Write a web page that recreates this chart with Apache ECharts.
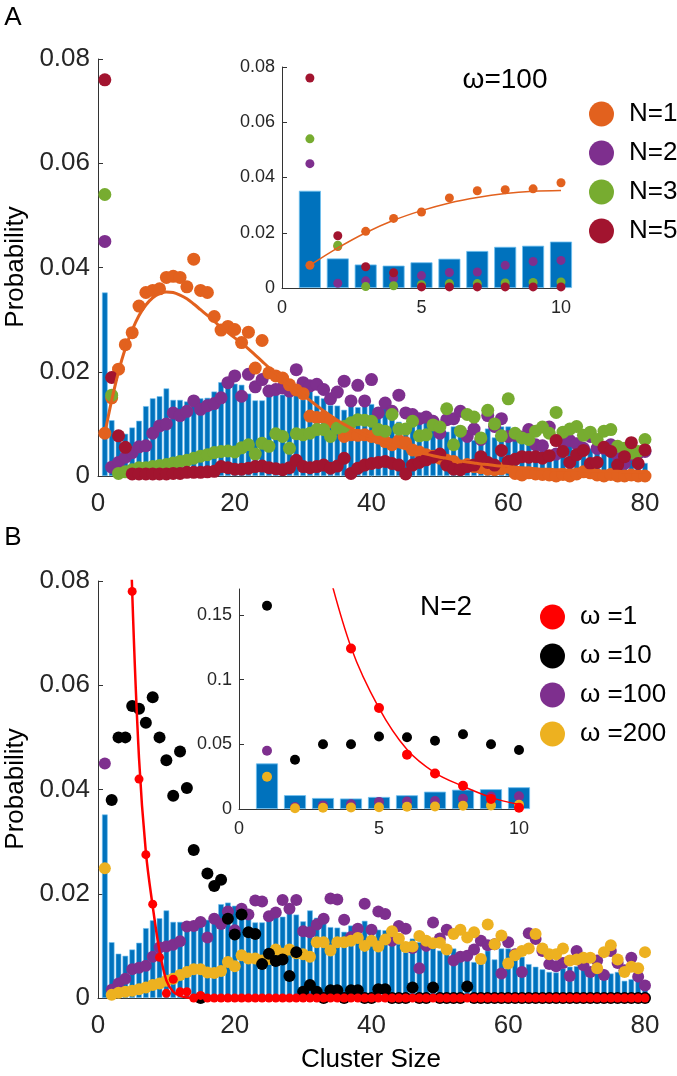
<!DOCTYPE html>
<html>
<head>
<meta charset="utf-8">
<script src="https://cdn.jsdelivr.net/npm/echarts@6/dist/echarts.min.js"></script>
<style>
html, body { margin: 0; background: #fff; }
#chart { width: 677px; height: 1076px; }
</style>
</head>
<body>
<div id="chart"></div>
<script>
// cluster sizes 1..80 (x positions)
const sizes = Array.from({ length: 80 }, (_, i) => i + 1)

// blue histogram (same in both panels)
const bars = [0.0352, 0.0107, 0.0085, 0.0081, 0.0093, 0.0106, 0.0134, 0.0149, 0.0153, 0.0168,
  0.0146, 0.0146, 0.0143, 0.0143, 0.0149, 0.0150, 0.0162, 0.0180, 0.0183, 0.0177,
  0.0175, 0.0158, 0.0145, 0.0145, 0.0155, 0.0163, 0.0156, 0.0176, 0.0160, 0.0147,
  0.0168, 0.0154, 0.0149, 0.0136, 0.0135, 0.0127, 0.0139, 0.0132, 0.0148, 0.0138,
  0.0131, 0.0130, 0.0114, 0.0104, 0.0088, 0.0114, 0.0107, 0.0104, 0.0104, 0.0091,
  0.0085, 0.0095, 0.0082, 0.0082, 0.0069, 0.0066, 0.0091, 0.0074, 0.0095, 0.0095,
  0.0082, 0.0079, 0.0065, 0.0060, 0.0055, 0.0050, 0.0049, 0.0057, 0.0060, 0.0061,
  0.0057, 0.0053, 0.0050, 0.0047, 0.0047, 0.0050, 0.0033, 0.0036, 0.0044, 0.0025]

// panel A, omega = 100
const n1 = [0.0082, 0.0150, 0.0205, 0.0252, 0.0275, 0.0326, 0.0352, 0.0356, 0.0359, 0.0381,
  0.0383, 0.0381, 0.0363, 0.0416, 0.0356, 0.0352, 0.0306, 0.0280, 0.0287, 0.0281,
  0.0256, 0.0276, 0.0207, 0.0260, 0.0198, 0.0192, 0.0188, 0.0175, 0.0165, 0.0158,
  0.0115, 0.0112, 0.0113, 0.0104, 0.0095, 0.0076, 0.0079, 0.0078, 0.0079, 0.0076,
  0.0073, 0.0066, 0.0060, 0.0068, 0.0064, 0.0050, 0.0046, 0.0041, 0.0038, 0.0034,
  0.0030, 0.0028, 0.0015, 0.0022, 0.0018, 0.0016, 0.0013, 0.0012, 0.0014, 0.0017,
  0.0005, 0.0002, 0.0006, 0.0004, 0.0003, 0.0002, 0.0000, 0.0003, 0.0000, 0.0004,
  0.0008, 0.0006, 0.0002, 0.0000, 0.0003, 0.0000, 0.0000, 0.0002, 0.0000, 0.0000]
const n1Fit = [0.0082, 0.0145, 0.0200, 0.0245, 0.0280, 0.0308, 0.0328, 0.0342, 0.0350, 0.0353,
  0.0352, 0.0347, 0.0340, 0.0330, 0.0319, 0.0308, 0.0297, 0.0285, 0.0275, 0.0265,
  0.0255, 0.0244, 0.0232, 0.0220, 0.0208, 0.0197, 0.0186, 0.0175, 0.0165, 0.0155,
  0.0145, 0.0135, 0.0125, 0.0116, 0.0107, 0.0099, 0.0092, 0.0085, 0.0079, 0.0074,
  0.0069, 0.0064, 0.0060, 0.0056, 0.0052, 0.0048, 0.0045, 0.0042, 0.0039, 0.0036,
  0.0034, 0.0031, 0.0029, 0.0027, 0.0025, 0.0023, 0.0022, 0.0020, 0.0019, 0.0018,
  0.0017, 0.0016, 0.0015, 0.0014, 0.0013, 0.0013, 0.0012, 0.0012, 0.0011, 0.0011,
  0.0010, 0.0010, 0.0010, 0.0009, 0.0009, 0.0009, 0.0008, 0.0008, 0.0008, 0.0008]
const n2 = [0.0450, 0.0017, 0.0026, 0.0036, 0.0045, 0.0056, 0.0058, 0.0082, 0.0096, 0.0100,
  0.0121, 0.0116, 0.0124, 0.0144, 0.0128, 0.0135, 0.0139, 0.0150, 0.0179, 0.0192,
  0.0153, 0.0195, 0.0171, 0.0185, 0.0163, 0.0166, 0.0169, 0.0163, 0.0204, 0.0179,
  0.0173, 0.0176, 0.0166, 0.0148, 0.0161, 0.0182, 0.0144, 0.0174, 0.0144, 0.0185,
  0.0121, 0.0140, 0.0124, 0.0155, 0.0121, 0.0118, 0.0110, 0.0113, 0.0105, 0.0082,
  0.0108, 0.0110, 0.0124, 0.0076, 0.0090, 0.0070, 0.0116, 0.0095, 0.0110, 0.0076,
  0.0078, 0.0075, 0.0089, 0.0060, 0.0058, 0.0094, 0.0042, 0.0064, 0.0068, 0.0062,
  0.0053, 0.0076, 0.0053, 0.0053, 0.0060, 0.0039, 0.0024, 0.0041, 0.0044, 0.0047]
const n3 = [0.0540, 0.0155, 0.0005, 0.0008, 0.0012, 0.0016, 0.0016, 0.0018, 0.0020, 0.0022,
  0.0025, 0.0028, 0.0030, 0.0034, 0.0038, 0.0041, 0.0045, 0.0047, 0.0048, 0.0046,
  0.0054, 0.0060, 0.0042, 0.0063, 0.0057, 0.0081, 0.0076, 0.0053, 0.0081, 0.0079,
  0.0082, 0.0089, 0.0089, 0.0076, 0.0092, 0.0095, 0.0102, 0.0108, 0.0107, 0.0105,
  0.0089, 0.0086, 0.0118, 0.0090, 0.0090, 0.0105, 0.0077, 0.0079, 0.0098, 0.0094,
  0.0129, 0.0060, 0.0086, 0.0118, 0.0113, 0.0073, 0.0126, 0.0100, 0.0077, 0.0148,
  0.0082, 0.0073, 0.0070, 0.0086, 0.0094, 0.0082, 0.0122, 0.0084, 0.0090, 0.0095,
  0.0078, 0.0084, 0.0070, 0.0086, 0.0089, 0.0057, 0.0053, 0.0044, 0.0047, 0.0070]
const n5 = [0.0760, 0.0189, 0.0077, 0.0055, 0.0004, 0.0004, 0.0004, 0.0004, 0.0004, 0.0004,
  0.0005, 0.0005, 0.0007, 0.0007, 0.0007, 0.0008, 0.0009, 0.0018, 0.0016, 0.0013,
  0.0013, 0.0015, 0.0018, 0.0019, 0.0016, 0.0014, 0.0012, 0.0016, 0.0030, 0.0018,
  0.0016, 0.0018, 0.0021, 0.0015, 0.0019, 0.0034, 0.0005, 0.0015, 0.0021, 0.0024,
  0.0026, 0.0028, 0.0024, 0.0021, 0.0004, 0.0021, 0.0026, 0.0031, 0.0036, 0.0042,
  0.0021, 0.0013, 0.0012, 0.0018, 0.0021, 0.0037, 0.0026, 0.0021, 0.0049, 0.0028,
  0.0032, 0.0037, 0.0036, 0.0037, 0.0034, 0.0039, 0.0068, 0.0047, 0.0026, 0.0041,
  0.0049, 0.0024, 0.0026, 0.0055, 0.0047, 0.0021, 0.0037, 0.0064, 0.0024, 0.0050]

// panel B, N = 2
const w1 = [0.400, 0.290, 0.200, 0.124, 0.078, 0.042, 0.0275, 0.0180, 0.0078, 0.0009,
  0.0036, 0.0012, 0.0012, 0, 0.0005, 0, 0, 0, 0, 0,
  0, 0, 0, 0, 0, 0, 0, 0, 0, 0,
  0, 0, 0, 0, 0, 0, 0, 0, 0, 0,
  0, 0, 0, 0, 0, 0, 0, 0, 0, 0,
  0, 0, 0, 0, 0, 0, 0, 0, 0, 0,
  0, 0, 0, 0, 0, 0, 0, 0, 0, 0,
  0, 0, 0, 0, 0, 0, 0, 0, 0, 0]
const w1Fit = [0.400, 0.290, 0.200, 0.125, 0.078, 0.046, 0.0280, 0.0176, 0.0090, 0.0034,
  0.0012, 0.0004, 0.0001, 0, 0, 0, 0, 0, 0, 0,
  0, 0, 0, 0, 0, 0, 0, 0, 0, 0,
  0, 0, 0, 0, 0, 0, 0, 0, 0, 0,
  0, 0, 0, 0, 0, 0, 0, 0, 0, 0,
  0, 0, 0, 0, 0, 0, 0, 0, 0, 0,
  0, 0, 0, 0, 0, 0, 0, 0, 0, 0,
  0, 0, 0, 0, 0, 0, 0, 0, 0, 0]
const w10 = [0.157, 0.038, 0.050, 0.050, 0.056, 0.0555, 0.0528, 0.0577, 0.050, 0.0456,
  0.0388, 0.0473, 0.0403, 0.0284, 0, 0.0239, 0.0215, 0.0227, 0.0152, 0.0122,
  0.0160, 0.0126, 0.0123, 0.0065, 0.0085, 0.0071, 0.0074, 0.0042, 0.0088, 0.0012,
  0.0025, 0.0012, 0, 0.0015, 0.0015, 0, 0.0015, 0.0015, 0, 0,
  0.0017, 0.0017, 0, 0, 0, 0.0020, 0, 0, 0.0020, 0,
  0, 0, 0, 0.0022, 0, 0, 0, 0, 0, 0,
  0, 0, 0, 0, 0, 0, 0, 0, 0, 0,
  0, 0, 0, 0, 0, 0, 0, 0, 0, 0]
const w100 = [0.0450, 0.0016, 0.0028, 0.0037, 0.0055, 0.0058, 0.0062, 0.0079, 0.0097, 0.0099,
  0.0102, 0.0109, 0.0137, 0.0138, 0.0146, 0.0116, 0.0152, 0.0142, 0.0166, 0.0130,
  0.0171, 0.0160, 0.0187, 0.0185, 0.0157, 0.0164, 0.0188, 0.0171, 0.0188, 0.0128,
  0.0126, 0.0141, 0.0152, 0.0191, 0.0189, 0.0150, 0.0117, 0.0133, 0.0181, 0.0131,
  0.0166, 0.0161, 0.0110, 0.0138, 0.0133, 0.0096, 0.0057, 0.0100, 0.0145, 0.0114,
  0.0131, 0.0072, 0.0079, 0.0081, 0.0093, 0.0110, 0.0101, 0.0103, 0.0047, 0.0107,
  0.0084, 0.0050, 0.0124, 0.0113, 0.0090, 0.0065, 0.0061, 0.0067, 0.0042, 0.0090,
  0.0063, 0.0050, 0.0072, 0.0044, 0.0090, 0.0067, 0.0053, 0.0077, 0.0041, 0.0024]
const w200 = [0.0249, 0.0006, 0.0010, 0.0012, 0.0014, 0.0017, 0.0020, 0.0025, 0.0028, 0.0033,
  0.0037, 0.0044, 0.0050, 0.0055, 0.0055, 0.0049, 0.0048, 0.0052, 0.0069, 0.0061,
  0.0082, 0.0076, 0.0076, 0.0072, 0.0075, 0.0093, 0.0085, 0.0093, 0.0086, 0.0084,
  0.0079, 0.0107, 0.0107, 0.0091, 0.0107, 0.0107, 0.0110, 0.0115, 0.0100, 0.0110,
  0.0099, 0.0112, 0.0128, 0.0114, 0.0098, 0.0099, 0.0119, 0.0110, 0.0105, 0.0106,
  0.0093, 0.0123, 0.0131, 0.0116, 0.0126, 0.0075, 0.0141, 0.0103, 0.0120, 0.0066,
  0.0082, 0.0090, 0.0095, 0.0123, 0.0095, 0.0084, 0.0084, 0.0095, 0.0072, 0.0074,
  0.0077, 0.0077, 0.0057, 0.0088, 0.0101, 0.0074, 0.0050, 0.0060, 0.0057, 0.0088]

const legendA = ['N=1', 'N=2', 'N=3', 'N=5']
const legendB = ['ω =1', 'ω =10', 'ω =100', 'ω =200']

const FONT = 'Liberation Sans, Arial, sans-serif'
const INK = '#262626'
const ORANGE = '#E2611E'
const PURPLE = '#7E2F8E'
const GREEN = '#77AC30'
const DARKRED = '#A2142F'
const RED = '#FF0000'
const GOLD = '#EDB120'
const BLUE = '#0072BD'

function pts (ys, n) {
  return ys.slice(0, n || ys.length).map((v, i) => [sizes[i], v])
}

function hist (ax, n, w, edge) {
  return {
    type: 'bar', xAxisIndex: ax, yAxisIndex: ax,
    data: pts(bars, n), barWidth: w, silent: true,
    itemStyle: { color: BLUE, borderColor: '#6ec0f0', borderWidth: edge }
  }
}

function dots (name, ys, color, size, ax, n) {
  return {
    name, type: 'scatter', xAxisIndex: ax, yAxisIndex: ax,
    data: pts(ys, n), symbolSize: size, clip: true, silent: true,
    itemStyle: { color, opacity: 1 }
  }
}

function fit (ys, color, width, ax, n) {
  return {
    type: 'line', xAxisIndex: ax, yAxisIndex: ax,
    data: pts(ys, n), smooth: 0.35, showSymbol: false, clip: true, silent: true,
    lineStyle: { color, width }
  }
}

function xAx (grid, max, interval, size, margin) {
  return {
    type: 'value', gridIndex: grid, min: 0, max, interval,
    axisLine: { show: true, onZero: false, lineStyle: { color: '#333', width: 1 } },
    axisTick: { show: true, inside: true, length: 5, lineStyle: { color: '#333' } },
    axisLabel: { color: INK, fontSize: size, fontFamily: FONT, margin },
    splitLine: { show: false }
  }
}

function yAx (grid, max, interval, size, margin, showMax) {
  return {
    type: 'value', gridIndex: grid, min: 0, max, interval,
    axisLine: { show: true, lineStyle: { color: '#333', width: 1 } },
    axisTick: { show: true, inside: true, length: 5, lineStyle: { color: '#333' } },
    axisLabel: { color: INK, fontSize: size, fontFamily: FONT, margin, showMaxLabel: showMax },
    splitLine: { show: false }
  }
}

function legend (names, left, top) {
  return {
    data: names, orient: 'vertical', left, top, icon: 'circle',
    itemWidth: 25, itemHeight: 25, itemGap: 13, selectedMode: false,
    textStyle: { fontSize: 26, color: '#000', fontFamily: FONT, lineHeight: 25, padding: [0, 0, 0, 10] }
  }
}

function label (text, x, y, size, rot) {
  return {
    type: 'text', x, y, rotation: rot || 0,
    style: { text, font: size + 'px ' + FONT, fill: '#000', textAlign: 'center', textVerticalAlign: 'middle' }
  }
}

const chart = echarts.init(document.getElementById('chart'))
chart.setOption({
  animation: false,
  backgroundColor: '#fff',
  grid: [
    { left: 98, top: 59, width: 547, height: 417, outerBoundsMode: 'none' },
    { left: 282, top: 67, width: 279, height: 221, outerBoundsMode: 'none' },
    { left: 98, top: 581, width: 547, height: 417, outerBoundsMode: 'none' },
    { left: 239, top: 589, width: 280, height: 220, outerBoundsMode: 'none' }
  ],
  xAxis: [
    xAx(0, 80, 20, 26, 15),
    xAx(1, 10, 5, 18, 11),
    xAx(2, 80, 20, 26, 15),
    xAx(3, 10, 5, 18, 11)
  ],
  yAxis: [
    yAx(0, 0.08, 0.02, 26, 8, true),
    yAx(1, 0.08, 0.02, 18, 7, true),
    yAx(2, 0.08, 0.02, 26, 8, true),
    yAx(3, 0.17, 0.05, 18, 7, false)
  ],
  legend: [legend(legendA, 584, 96), legend(legendB, 535, 599)],
  graphic: [
    label('A', 13, 18, 26),
    label('B', 13, 538, 26),
    label('Probability', 16, 267, 26, Math.PI / 2),
    label('Probability', 16, 789, 26, Math.PI / 2),
    label('Cluster Size', 371, 1060, 26),
    label('ω=100', 505, 80, 28),
    label('N=2', 446, 607, 28)
  ],
  series: [
    // A main
    hist(0, 80, 5.6, 0.6),
    dots('N=2', n2, PURPLE, 13, 0),
    dots('N=1', n1, ORANGE, 13, 0),
    fit(n1Fit, ORANGE, 3, 0),
    dots('N=3', n3, GREEN, 13, 0),
    dots('N=5', n5, DARKRED, 13, 0),
    // A inset
    hist(1, 10, 22, 0.8),
    dots('N=2', n2, PURPLE, 9, 1, 10),
    fit(n1Fit, ORANGE, 1.5, 1, 10),
    dots('N=1', n1, ORANGE, 9, 1, 10),
    dots('N=3', n3, GREEN, 9, 1, 10),
    dots('N=5', n5, DARKRED, 9, 1, 10),
    // B main
    hist(2, 80, 5.6, 0.6),
    dots('ω =100', w100, PURPLE, 12, 2),
    dots('ω =200', w200, GOLD, 12, 2),
    dots('ω =10', w10, '#000', 12, 2),
    fit(w1Fit, RED, 2.5, 2),
    dots('ω =1', w1, RED, 9, 2),
    // B inset
    hist(3, 10, 22, 0.8),
    dots('ω =100', w100, PURPLE, 10, 3, 10),
    dots('ω =200', w200, GOLD, 10, 3, 10),
    dots('ω =10', w10, '#000', 10, 3, 10),
    fit(w1Fit, RED, 1.5, 3, 10),
    dots('ω =1', w1, RED, 10, 3, 10)
  ]
})
</script>
</body>
</html>
